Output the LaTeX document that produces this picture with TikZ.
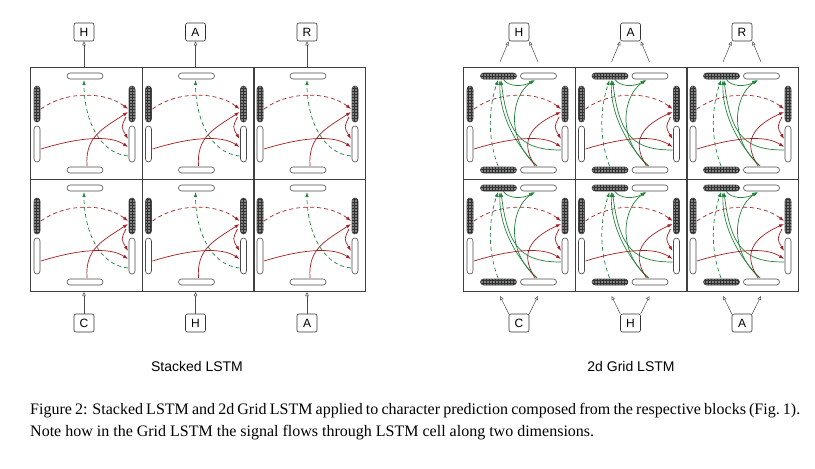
\documentclass[tikz,border=0pt]{standalone}
\usepackage{fontspec}
\setmainfont{Liberation Serif}
\newfontfamily\lsans{Liberation Sans}
\usetikzlibrary{patterns,arrows.meta}
\definecolor{rd}{RGB}{165,30,35}
\definecolor{gr}{RGB}{35,130,60}
\tikzset{
 capsule/.style={draw=black!70,line width=0.6pt,rounded corners=3pt,fill=white,inner sep=0pt},
 hcap/.style={capsule,minimum width=36pt,minimum height=6pt},
 vcap/.style={capsule,minimum width=6pt,minimum height=36pt},
 hatch/.style={postaction={pattern=grid,pattern color=black!80},fill=black!50},
 cellbox/.style={draw=black!75,line width=0.7pt},
 lab/.style={draw=black!80,line width=0.6pt,rounded corners=2pt,minimum width=20pt,minimum height=18pt,inner sep=0pt,font=\lsans\fontsize{12}{12}\selectfont},
 io/.style={-{Triangle[open,length=4pt,width=3.5pt]},black!70,line width=0.5pt},
 ra/.style={rd,line width=0.7pt,-{Latex[length=5pt,width=3.5pt]}},
 ga/.style={gr,line width=0.7pt,-{Latex[length=5pt,width=3.5pt]}},
 dsh/.style={dash pattern=on 4pt off 3pt},
 scell/.pic={
   \node[cellbox,minimum width=112pt,minimum height=112pt,anchor=north west,inner sep=0pt] (-box) at (0,0) {};
   \node[hcap] (-t) at (55,9) {};
   \node[hcap] (-b) at (55,103) {};
   \node[vcap,hatch] (-ld) at (7,37) {};
   \node[vcap] (-lw) at (7,77) {};
   \node[vcap,hatch] (-rd) at (102,37) {};
   \node[vcap] (-rw) at (102,77) {};
   \draw[ra,dsh] (11,42) .. controls (35,24) and (75,24) .. (98,42);
   \draw[ga,dsh] (98,89) .. controls (68,86) and (54,50) .. (54,13);
   \draw[ra] (11,82) .. controls (50,70) and (80,68) .. (98,80);
   \draw[ra] (57,99) .. controls (55,70) and (72,62) .. (98,45);
   \draw[ra] (96,50) .. controls (91,60) .. (98,72);
 },
 gcell/.pic={
   \node[cellbox,minimum width=112pt,minimum height=112pt,anchor=north west,inner sep=0pt] (-box) at (0,0) {};
   \node[hcap,hatch] (-td) at (35.5,9) {};
   \node[hcap] (-tw) at (75.5,9) {};
   \node[hcap,hatch] (-bd) at (35.5,103) {};
   \node[hcap] (-bw) at (75.5,103) {};
   \node[vcap,hatch] (-ld) at (7,37) {};
   \node[vcap] (-lw) at (7,77) {};
   \node[vcap,hatch] (-rd) at (102,37) {};
   \node[vcap] (-rw) at (102,77) {};
   \draw[ra,dsh] (11,42) .. controls (35,24) and (75,24) .. (98,42);
   \draw[ga,dsh] (35,99) .. controls (24,70) and (26,40) .. (35,13);
   \draw[ga] (74,99) .. controls (50,75) and (36,45) .. (37,13);
   \draw[ga] (74,99) .. controls (42,72) and (48,28) .. (72,13);
   \draw[ga] (40,12) .. controls (45,20) and (60,20) .. (71,13);
   \draw[ga] (98,83) .. controls (60,83) and (45,70) .. (38,13);
   \draw[ra] (11,82) .. controls (50,70) and (80,68) .. (98,80);
   \draw[ra] (72,99) .. controls (60,80) and (60,62) .. (98,45);
   \draw[ra] (96,50) .. controls (91,60) .. (98,72);
 }
}
\begin{document}
\begin{tikzpicture}[x=1pt,y=-1pt]
\useasboundingbox (0,0) rectangle (815,469);
% stacked
\foreach \i/\x/\tl/\bl in {1/30/H/C,2/141.5/A/H,3/253/R/A}{
  \pic (s1\i) at (\x,67) {scell};
  \pic (s2\i) at (\x,179) {scell};
  \node[lab] (st\i) at (\x+54,32) {\tl};
  \node[lab] (sb\i) at (\x+54,323) {\bl};
  \coordinate (stc\i) at (\x+54,67);
  \coordinate (sbc\i) at (\x+54,292);
  \draw[io] (stc\i) -- (st\i.south);
  \draw[io] (sb\i.north) -- (sbc\i);
}
% grid
\foreach \i/\x/\tl/\bl in {1/463/H/C,2/574.5/A/H,3/686/R/A}{
  \pic (g1\i) at (\x,67) {gcell};
  \pic (g2\i) at (\x,179) {gcell};
  \node[lab] (gt\i) at (\x+56,32) {\tl};
  \node[lab] (gb\i) at (\x+56,323) {\bl};
  \coordinate (gta\i) at (\x+37,62);
  \coordinate (gtb\i) at (\x+75,62);
  \coordinate (gba\i) at (\x+37,296);
  \coordinate (gbb\i) at (\x+75,296);
  \draw[io] (gta\i) -- (gt\i.south west);
  \draw[io] (gtb\i) -- (gt\i.south east);
  \draw[io] (gb\i.north west) -- (gba\i);
  \draw[io] (gb\i.north east) -- (gbb\i);
}
\node[font=\lsans\fontsize{14}{14}\selectfont] (t1) at (197,366) {Stacked LSTM};
\node[font=\lsans\fontsize{14}{14}\selectfont] (t2) at (631,366) {2d Grid LSTM};
\node[anchor=north west,inner sep=0pt,text width=770pt,align=justify,font=\fontsize{16}{22}\selectfont] (cap) at (30,403)
 {Figure 2: Stacked LSTM and 2d Grid LSTM applied to character prediction composed from the respective blocks (Fig.~1). Note how in the Grid LSTM the signal flows through LSTM cell along two dimensions.};
\end{tikzpicture}
\end{document}
